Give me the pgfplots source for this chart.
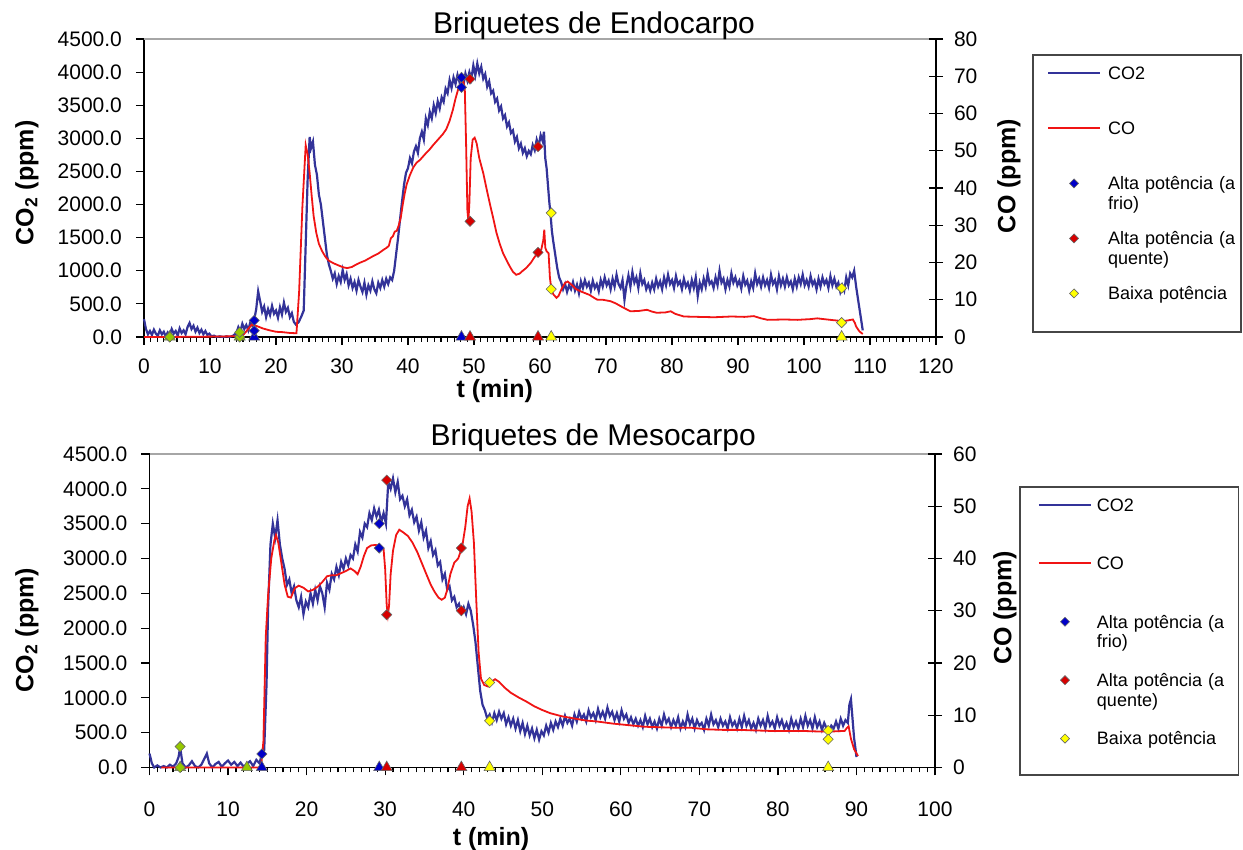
\documentclass[border=0pt]{standalone}
\usepackage{fontspec}
\setmainfont{Liberation Sans}
\usepackage{pgfplots}
\pgfplotsset{compat=1.18}

\definecolor{cotwo}{RGB}{51,51,153}
\definecolor{coline}{RGB}{240,20,20}
\definecolor{mblue}{RGB}{0,0,200}
\definecolor{mred}{RGB}{215,0,0}
\definecolor{myellow}{RGB}{255,255,0}
\definecolor{mgreen}{RGB}{150,200,0}
\definecolor{frm}{RGB}{70,70,70}

\newcommand{\tickfont}{\fontsize{10.5}{12}\selectfont}
\newcommand{\labfont}{\fontsize{12.5}{14}\selectfont\bfseries}
\newcommand{\legfont}{\fontsize{9}{9.8}\selectfont}

\pgfplotsset{
  base/.style={scale only axis, clip=false,
    /pgf/number format/assume math mode=true,
    tick label style={font=\tickfont},
    label style={font=\labfont},
    axis line style={black, line width=0.7pt},
    tick style={black, line width=0.6pt},
    major tick length=4pt, minor tick length=2.5pt, tick align=outside},
  leftax/.style={base, axis x line*=bottom, axis y line*=left,
    ymin=0, ymax=4500, ytick={0,500,...,4500}, minor x tick num=9,
    yticklabel style={/pgf/number format/.cd, fixed, fixed zerofill, precision=1, 1000 sep={}, /tikz/xshift=-3.5pt},
    after end axis/.code={\draw[gray!70, line width=0.7pt] (rel axis cs:0,1) -- (rel axis cs:1,1);}},
  rightax/.style={base, axis x line=none, axis y line*=right,
    major tick length=7pt, ytick align=center,
    yticklabel style={xshift=2pt}},
  dia/.style={only marks, mark=square*, mark size=1.8pt, forget plot,
    mark options={rotate=45, fill=#1, draw=black!60, line width=0.3pt}},
  tri/.style={only marks, mark=triangle*, mark size=3.2pt, forget plot,
    mark options={fill=#1, draw=black!60, line width=0.3pt}},
  lineleg/.style={legend image code/.code={\draw[##1] (0pt,3.2pt) -- (26pt,3.2pt);}},
  markleg/.style={only marks, mark=square*, mark size=1.6pt,
    mark options={rotate=45, fill=#1, draw=black!60, line width=0.3pt},
    legend image code/.code={\path[draw=none, fill=none] (0pt,3.2pt) -- (26pt,3.2pt); \draw[##1] plot coordinates {(13pt,3.2pt)};}},
}

\begin{document}
\begin{tikzpicture}
\useasboundingbox (0,0) rectangle (621.5pt,425pt);

% ================= TOP PANEL =================
\begin{axis}[leftax, at={(72pt,256.5pt)}, anchor=south west,
  width=396pt, height=149pt, xmin=0, xmax=120, xtick={0,10,...,120},
  xticklabel style={yshift=-3.5pt},
  title={Briquetes de Endocarpo},
  title style={at={(axis description cs:0.5,1)}, anchor=base, xshift=27pt, yshift=-3.5pt, font=\fontsize{15}{17}\selectfont},
  xlabel={t (min)}, xlabel style={at={(axis description cs:0.443,0)}, anchor=base, yshift=-30.5pt},
  ylabel={CO\textsubscript{2} (ppm)}, ylabel style={at={(axis description cs:-0.1477,0.517)}, anchor=center}]
\addplot[cotwo, line width=1.1pt] coordinates {
(0,270)(0.3,120)(0.6,40)(0.9,90)(1.2,30)(1.5,110)(1.8,50)(2.1,20)(2.4,100)(2.7,40)(3,80)(3.3,10)(3.6,70)(3.9,30)(4.2,120)(4.5,50)(4.8,90)(5.1,20)(5.4,130)(5.7,60)(6,100)(6.3,40)(6.6,150)(6.9,210)(7.2,120)(7.5,170)(7.8,80)(8.1,140)(8.4,60)(8.7,110)(9,40)(9.3,90)(9.6,30)(9.9,50)(10.2,10)(10.6,20)(11,0)(11.5,10)(12,0)(12.5,10)(13,0)(13.5,20)(14,60)(14.3,150)(14.6,90)(14.9,200)(15.2,120)(15.5,180)(15.8,100)(16.1,220)(16.4,170)(16.7,260)(17,420)(17.3,690)(17.6,540)(17.9,380)(18.2,460)(18.5,300)(18.8,420)(19.1,330)(19.4,470)(19.7,350)(20,400)(20.3,290)(20.6,450)(20.9,340)(21.2,520)(21.5,380)(21.8,440)(22.1,300)(22.4,360)(22.7,230)(23,190)(23.4,220)(23.8,300)(24.2,400)(24.5,1400)(24.8,2400)(25.1,3020)(25.3,2850)(25.6,2950)(25.9,2600)(26.2,2450)(26.5,2150)(26.8,2000)(27.1,1750)(27.4,1500)(27.7,1250)(28,1100)(28.3,1000)(28.6,880)(28.9,960)(29.2,800)(29.5,920)(29.8,830)(30.1,1010)(30.4,860)(30.7,950)(31,780)(31.3,880)(31.6,740)(31.9,830)(32.2,700)(32.5,860)(32.8,760)(33.1,680)(33.4,820)(33.7,640)(34,780)(34.3,700)(34.6,840)(34.9,720)(35.2,660)(35.5,820)(35.8,740)(36.1,860)(36.4,760)(36.7,880)(37,800)(37.3,900)(37.6,860)(37.9,1000)(38.2,1250)(38.5,1500)(38.8,1780)(39.1,2050)(39.4,2300)(39.7,2480)(40,2550)(40.3,2700)(40.6,2620)(40.9,2800)(41.2,2880)(41.5,2780)(41.8,3000)(42.1,3100)(42.4,2980)(42.7,3300)(43,3200)(43.3,3400)(43.6,3300)(43.9,3500)(44.2,3380)(44.5,3560)(44.8,3450)(45.1,3620)(45.4,3550)(45.7,3750)(46,3680)(46.3,3880)(46.6,3760)(46.9,3920)(47.2,3820)(47.5,3960)(47.8,3850)(48.1,3930)(48.4,3800)(48.7,3980)(49,3870)(49.3,4000)(49.6,3900)(49.9,4100)(50.2,3950)(50.5,4130)(50.8,3980)(51.1,4080)(51.4,3900)(51.7,3970)(52,3780)(52.3,3860)(52.6,3680)(52.9,3720)(53.2,3550)(53.5,3600)(53.8,3420)(54.1,3480)(54.4,3300)(54.7,3350)(55,3180)(55.3,3240)(55.6,3080)(55.9,3120)(56.2,2950)(56.5,3020)(56.8,2850)(57.1,2920)(57.4,2780)(57.7,2850)(58,2730)(58.3,2810)(58.6,2760)(58.9,2900)(59.2,2820)(59.5,2980)(59.8,2880)(60.1,3050)(60.4,2960)(60.6,3100)(60.8,2700)(61,2550)(61.2,2300)(61.4,2050)(61.6,1850)(61.8,1600)(62,1450)(62.3,1250)(62.6,1050)(62.9,900)(63.2,830)(63.5,720)(63.8,800)(64.1,680)(64.4,780)(64.7,720)(65,830)(65.3,700)(65.6,790)(65.9,660)(66.2,840)(66.5,740)(66.8,860)(67.1,760)(67.4,820)(67.7,700)(68,850)(68.3,740)(68.6,800)(68.9,690)(69.2,860)(69.5,760)(69.8,900)(70.1,780)(70.4,850)(70.7,720)(71,880)(71.3,760)(71.6,940)(71.9,800)(72.2,740)(72.5,860)(72.8,560)(73.1,780)(73.4,930)(73.7,760)(74,980)(74.3,820)(74.6,900)(74.9,740)(75.2,960)(75.5,800)(75.8,860)(76.1,720)(76.4,800)(76.7,700)(77,820)(77.3,720)(77.6,880)(77.9,760)(78.2,840)(78.5,720)(78.8,900)(79.1,780)(79.4,940)(79.7,800)(80,860)(80.3,740)(80.6,920)(80.9,790)(81.2,840)(81.5,720)(81.8,880)(82.1,760)(82.4,820)(82.7,700)(83,860)(83.3,740)(83.6,900)(83.9,620)(84.2,820)(84.5,720)(84.8,880)(85.1,760)(85.4,960)(85.7,800)(86,840)(86.3,740)(86.6,900)(86.9,780)(87.2,1000)(87.5,820)(87.8,880)(88.1,720)(88.4,860)(88.7,760)(89,960)(89.3,820)(89.6,900)(89.9,780)(90.2,850)(90.5,730)(90.8,920)(91.1,790)(91.4,850)(91.7,700)(92,840)(92.3,740)(92.6,960)(92.9,800)(93.2,880)(93.5,760)(93.8,900)(94.1,780)(94.4,860)(94.7,740)(95,940)(95.3,800)(95.6,860)(95.9,720)(96.2,920)(96.5,780)(96.8,880)(97.1,760)(97.4,900)(97.7,780)(98,840)(98.3,720)(98.6,880)(98.9,760)(99.2,900)(99.5,800)(99.8,940)(100.1,780)(100.4,860)(100.7,760)(101,920)(101.3,790)(101.6,850)(101.9,720)(102.2,880)(102.5,760)(102.8,900)(103.1,800)(103.4,860)(103.7,740)(104,920)(104.3,780)(104.6,880)(104.9,760)(105.2,820)(105.5,680)(105.8,780)(106.1,700)(106.4,900)(106.7,780)(107,960)(107.3,900)(107.6,1000)(107.9,760)(108.2,560)(108.6,300)(108.9,100)};
\end{axis}

\begin{axis}[rightax, at={(72pt,256.5pt)}, anchor=south west,
  width=396pt, height=149pt, xmin=0, xmax=120, ymin=0, ymax=80, ytick={0,10,...,80},
  ylabel={CO (ppm)}, ylabel style={at={(axis description cs:1.0922,0.54)}, anchor=center}]
\addplot[coline, line width=0.9pt] coordinates {
(0,0)(3,0)(10,0.1)(14,0.2)(15,0.5)(15.5,1.5)(16.3,3.3)(17,3.0)(18,2.3)(19,1.8)(20,1.4)(21,1.3)(22,1.1)(23.1,1.0)(23.5,12)(24,35)(24.5,51.5)(24.8,49)(25.1,44)(25.4,38)(25.7,32.5)(26.1,28)(26.5,25)(27,23)(27.5,21.5)(28,20.5)(28.7,19.8)(29.5,19.2)(30.2,18.7)(30.8,18.5)(31.5,18.8)(32.2,19.5)(32.8,20)(33.5,20.5)(34.2,21.2)(34.8,21.8)(35.5,22.4)(36.2,23.3)(36.8,24)(37.1,24.5)(37.4,26.5)(37.7,27)(38,28.3)(38.3,28.5)(38.6,30)(38.9,32)(39.2,35.5)(39.5,38.5)(39.8,41)(40.3,43.5)(40.8,45.5)(41.3,46.8)(41.8,47.5)(42.3,48.5)(42.8,49.5)(43.3,50.4)(43.8,51.5)(44.3,52.5)(44.8,53.5)(45.3,54.5)(45.8,55.8)(46.3,58)(46.8,61)(47.2,64)(47.6,66.5)(48,68)(48.3,69)(48.6,67)(48.8,52)(49,34)(49.15,31)(49.3,36)(49.5,48)(49.8,53)(50.1,53.5)(50.4,52)(50.8,48)(51.4,44)(52,39)(52.5,35)(52.9,32)(53.4,28)(53.9,25)(54.4,22.5)(54.9,20.7)(55.4,19)(55.9,17.5)(56.4,16.7)(56.9,17)(57.4,17.8)(57.9,18.5)(58.6,19.9)(59.2,21.5)(59.7,22.7)(60.2,23.5)(60.5,26)(60.65,28.8)(60.8,24)(61,23)(61.3,22.5)(61.5,16)(61.7,13)(62,11.5)(62.5,10.5)(62.8,11)(63.3,13)(63.8,14.5)(64.2,14.9)(64.8,14)(65.5,12.8)(66.5,12)(67.5,11.3)(68.2,10.5)(68.7,10)(69.5,10)(70.7,9.6)(71.5,9)(72.5,8)(73.7,6.9)(75,7)(76.2,7.3)(77,6.8)(77.7,6.5)(79,6.6)(79.8,6.9)(80.5,6.2)(81.8,5.5)(84,5.4)(86.4,5.3)(89,5.5)(91,5.4)(92.4,5.6)(93.5,5.0)(94.5,4.6)(97,4.7)(99,4.6)(101,4.8)(102,5.0)(104,4.6)(105.6,4.3)(106.5,4.4)(107.4,4.7)(107.7,3.8)(107.9,2.8)(108.4,1.5)(108.9,0.8)};
\end{axis}

\begin{axis}[base, hide axis, at={(72pt,256.5pt)}, anchor=south west,
  width=396pt, height=149pt, xmin=0, xmax=120, ymin=0, ymax=4500,
  legend style={draw=none, fill=none, at={(1.1402,0.910)}, anchor=north west,
    inner sep=0pt, outer sep=0pt, row sep=6.5pt, column sep=3.5pt, font=\legfont,
    nodes={inner sep=0pt, text width=64pt, align=left, text height=7pt, text depth=14pt},
    cells={anchor=base west}}]
\addplot[tri=mgreen] coordinates {(3.9,0)(14.5,0)};
\addplot[dia=mgreen] coordinates {(3.9,0)(14.5,0)(14.5,70)};
\addplot[tri=mblue] coordinates {(16.7,0)(48.1,0)};
\addplot[dia=mblue] coordinates {(16.7,250)(16.7,95)(48.1,3920)(48.1,3770)};
\addplot[tri=mred] coordinates {(49.4,0)(59.7,0)};
\addplot[dia=mred] coordinates {(49.4,3895)(49.4,1747)(59.7,2875)(59.7,1277)};
\addplot[tri=myellow] coordinates {(61.7,0)(105.7,0)};
\addplot[dia=myellow] coordinates {(61.7,1873)(61.7,722)(105.7,737)(105.7,217)};
\addlegendimage{cotwo, line width=1pt, lineleg}
\addlegendentry{CO2}
\addlegendimage{coline, line width=1pt, lineleg}
\addlegendentry{CO}
\addlegendimage{markleg=mblue}
\addlegendentry{Alta potência (a frio)}
\addlegendimage{markleg=mred}
\addlegendentry{Alta potência (a quente)}
\addlegendimage{markleg=myellow}
\addlegendentry{Baixa potência}
\end{axis}
\draw[frm, line width=0.7pt] (516.5pt,259pt) rectangle (620.5pt,397.5pt);

% ================= BOTTOM PANEL =================
\begin{axis}[leftax, at={(74.75pt,41.25pt)}, anchor=south west,
  width=392.75pt, height=156.75pt, xmin=0, xmax=100, xtick={0,10,...,100},
  xticklabel style={yshift=-9.5pt},
  title={Briquetes de Mesocarpo},
  title style={at={(axis description cs:0.5,1)}, anchor=base, xshift=25.5pt, yshift=-2pt, font=\fontsize{15}{17}\selectfont},
  xlabel={t (min)}, xlabel style={at={(axis description cs:0.4347,0)}, anchor=base, yshift=-39.25pt},
  ylabel={CO\textsubscript{2} (ppm)}, ylabel style={at={(axis description cs:-0.156,0.4386)}, anchor=center}]
\addplot[cotwo, line width=1.1pt] coordinates {
(0,200)(0.3,60)(0.6,0)(1,30)(1.4,0)(1.8,20)(2.2,0)(2.6,40)(3,10)(3.4,60)(3.7,150)(3.9,290)(4.2,60)(4.6,0)(5,30)(5.4,90)(5.8,20)(6.2,0)(6.6,40)(7,130)(7.3,200)(7.6,60)(8,0)(8.4,50)(8.8,80)(9.2,10)(9.6,60)(10,100)(10.4,40)(10.8,80)(11.2,20)(11.6,70)(12,10)(12.4,50)(12.8,90)(13.2,20)(13.6,110)(14,60)(14.3,190)(14.6,250)(14.9,1200)(15.1,2300)(15.4,3200)(15.7,3500)(16,3300)(16.3,3550)(16.6,3200)(16.9,3000)(17.2,2850)(17.5,2620)(17.8,2700)(18.1,2500)(18.4,2600)(18.7,2400)(19,2300)(19.3,2450)(19.6,2200)(19.9,2380)(20.2,2300)(20.5,2500)(20.8,2350)(21.1,2550)(21.4,2400)(21.7,2600)(22,2500)(22.3,2300)(22.6,2650)(22.9,2550)(23.2,2780)(23.5,2700)(23.8,2880)(24.1,2760)(24.4,2950)(24.7,2850)(25,3000)(25.3,2900)(25.6,3050)(25.9,3000)(26.2,3200)(26.5,3100)(26.8,3380)(27.1,3300)(27.4,3500)(27.7,3450)(28,3650)(28.3,3550)(28.6,3720)(28.9,3600)(29.2,3700)(29.5,3520)(29.8,3650)(30.1,3500)(30.4,4100)(30.7,4000)(31,4150)(31.3,3950)(31.6,4100)(31.9,3850)(32.2,3900)(32.5,3750)(32.8,3850)(33.1,3620)(33.4,3700)(33.7,3520)(34,3600)(34.3,3400)(34.6,3520)(34.9,3300)(35.2,3400)(35.5,3150)(35.8,3250)(36.1,3050)(36.4,3120)(36.7,2900)(37,2950)(37.3,2700)(37.6,2780)(37.9,2550)(38.2,2600)(38.5,2400)(38.8,2450)(39.1,2300)(39.4,2350)(39.7,2220)(40,2300)(40.3,2200)(40.6,2350)(40.9,2250)(41.2,2050)(41.5,1800)(41.8,1450)(42.1,1100)(42.4,900)(42.7,820)(43,700)(43.3,760)(43.6,650)(43.9,780)(44.2,680)(44.5,800)(44.8,700)(45.1,780)(45.4,620)(45.7,720)(46,600)(46.3,700)(46.6,560)(46.9,680)(47.2,520)(47.5,640)(47.8,480)(48.1,600)(48.4,460)(48.7,560)(49,420)(49.3,540)(49.6,400)(49.9,520)(50.2,460)(50.5,600)(50.8,500)(51.1,640)(51.4,540)(51.7,660)(52,580)(52.3,700)(52.6,600)(52.9,740)(53.2,640)(53.5,700)(53.8,600)(54.1,760)(54.4,660)(54.7,800)(55,700)(55.3,760)(55.6,660)(55.9,820)(56.2,720)(56.5,780)(56.8,680)(57.1,840)(57.4,720)(57.7,800)(58,700)(58.3,860)(58.6,740)(58.9,800)(59.2,680)(59.5,780)(59.8,660)(60.1,820)(60.4,700)(60.7,760)(61,640)(61.3,720)(61.6,620)(61.9,700)(62.2,600)(62.5,680)(62.8,580)(63.1,740)(63.4,620)(63.7,700)(64,580)(64.3,660)(64.6,560)(64.9,700)(65.2,600)(65.5,760)(65.8,640)(66.1,700)(66.4,580)(66.7,680)(67,600)(67.3,720)(67.6,560)(67.9,660)(68.2,580)(68.5,760)(68.8,620)(69.1,700)(69.4,560)(69.7,680)(70,600)(70.3,640)(70.6,540)(70.9,700)(71.2,600)(71.5,760)(71.8,620)(72.1,680)(72.4,580)(72.7,700)(73,600)(73.3,660)(73.6,560)(73.9,720)(74.2,600)(74.5,660)(74.8,560)(75.1,700)(75.4,580)(75.7,740)(76,600)(76.3,680)(76.6,560)(76.9,640)(77.2,540)(77.5,700)(77.8,600)(78.1,680)(78.4,560)(78.7,740)(79,600)(79.3,660)(79.6,560)(79.9,720)(80.2,600)(80.5,680)(80.8,560)(81.1,640)(81.4,540)(81.7,700)(82,580)(82.3,660)(82.6,560)(82.9,700)(83.2,580)(83.5,740)(83.8,600)(84.1,680)(84.4,560)(84.7,720)(85,580)(85.3,660)(85.6,540)(85.9,640)(86.2,560)(86.5,520)(86.8,600)(87.1,560)(87.4,660)(87.7,560)(88,700)(88.3,600)(88.6,680)(88.9,640)(89.1,900)(89.3,980)(89.5,700)(89.7,420)(89.9,250)(90,150)};
\end{axis}

\begin{axis}[rightax, at={(74.75pt,41.25pt)}, anchor=south west,
  width=392.75pt, height=156.75pt, xmin=0, xmax=100, ymin=0, ymax=60, ytick={0,10,...,60},
  ylabel={CO (ppm)}, ylabel style={at={(axis description cs:1.0891,0.509)}, anchor=center}]
\addplot[coline, line width=0.9pt] coordinates {
(1.5,0)(14.2,0)(14.5,5)(14.8,25)(15.1,33)(15.5,40)(15.9,43.5)(16.1,44.5)(16.4,43)(16.8,39)(17.2,35)(17.6,32.7)(18,32.5)(18.5,34.3)(19,34.8)(19.6,34.4)(20.2,33.7)(20.8,34)(21.4,34.6)(22,35.5)(22.6,36.6)(23.2,36.8)(23.8,36.8)(24.4,37.2)(25,37.6)(25.6,38.1)(26.1,37.6)(26.5,37)(26.9,38.5)(27.3,40.5)(27.7,42)(28.2,42.5)(28.8,42.6)(29.4,42.3)(29.8,41.8)(30,38)(30.2,31)(30.35,29.2)(30.5,31)(30.7,37)(31,41.5)(31.4,44.5)(31.8,45.5)(32.3,45)(32.9,44.3)(33.5,43)(34.1,41.2)(34.7,39)(35.3,36.8)(35.8,35)(36.3,33.6)(36.8,32.5)(37.2,32.1)(37.6,32.5)(37.9,34)(38.3,37)(38.8,39.2)(39.3,40)(39.8,42.2)(40.2,46)(40.5,50)(40.75,51.5)(41,49)(41.3,43)(41.6,32)(41.9,22)(42.2,17)(42.6,15.8)(43.1,15.5)(43.6,16.5)(44,16.9)(44.5,16.4)(45.2,15.3)(46,14.3)(47,13.4)(48,12.6)(49,11.7)(50,11)(51,10.4)(52.5,9.8)(54,9.4)(55.5,9)(57,8.8)(59,8.4)(61,8.1)(63,7.8)(65,7.7)(67,7.6)(69,7.6)(71,7.3)(73,7.2)(75,7.2)(77,7.1)(79,7.0)(81,7.0)(83,7.0)(85,6.9)(87,6.9)(88.5,7.0)(88.8,7.6)(89,7.9)(89.3,5.5)(89.7,3.5)(90.2,2.2)};
\end{axis}

\begin{axis}[base, hide axis, at={(74.75pt,41.25pt)}, anchor=south west,
  width=392.75pt, height=156.75pt, xmin=0, xmax=100, ymin=0, ymax=4500,
  legend style={draw=none, fill=none, at={(1.1311,0.8616)}, anchor=north west,
    inner sep=0pt, outer sep=0pt, row sep=8.2pt, column sep=2.5pt, font=\legfont,
    nodes={inner sep=0pt, text width=64pt, align=left, text height=7pt, text depth=14pt},
    cells={anchor=base west}}]
\addplot[tri=mgreen] coordinates {(3.9,0)(12.4,0)};
\addplot[dia=mgreen] coordinates {(3.9,300)(3.9,0)};
\addplot[tri=mblue] coordinates {(14.3,0)(29.25,0)};
\addplot[dia=mblue] coordinates {(14.3,194)(29.25,3500)(29.25,3150)};
\addplot[tri=mred] coordinates {(30.2,0)(39.7,0)};
\addplot[dia=mred] coordinates {(30.2,4125)(30.2,2193)(39.7,3150)(39.7,2250)};
\addplot[tri=myellow] coordinates {(43.3,0)(86.4,0)};
\addplot[dia=myellow] coordinates {(43.3,1220)(43.3,670)(86.4,530)(86.4,405)};
\addlegendimage{cotwo, line width=1pt, lineleg}
\addlegendentry{CO2}
\addlegendimage{coline, line width=1pt, lineleg}
\addlegendentry{CO}
\addlegendimage{markleg=mblue}
\addlegendentry{Alta potência (a frio)}
\addlegendimage{markleg=mred}
\addlegendentry{Alta potência (a quente)}
\addlegendimage{markleg=myellow}
\addlegendentry{Baixa potência}
\end{axis}
\draw[frm, line width=0.7pt] (510pt,37.5pt) rectangle (619.2pt,181.5pt);
\end{tikzpicture}
\end{document}
